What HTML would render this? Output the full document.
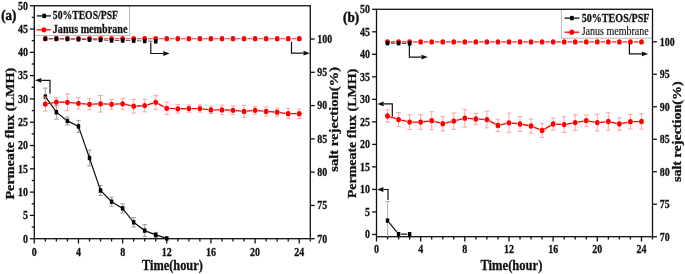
<!DOCTYPE html>
<html><head><meta charset="utf-8"><style>
html,body{margin:0;padding:0;background:#fff;}
body{width:685px;height:274px;overflow:hidden;}
svg{display:block;will-change:transform;}
text{font-family:"Liberation Serif", serif;fill:#111;}
text[font-weight="bold"]{stroke:#111;stroke-width:0.28px;}
text[font-weight="normal"]{stroke:#111;stroke-width:0.15px;}
</style></head><body>
<svg width="685" height="274" viewBox="0 0 685 274" font-family="Liberation Serif, serif">
<rect width="685" height="274" fill="#fff"/>
<rect x="34.30" y="5.75" width="95.30" height="29.85" fill="#fff" stroke="#b8b8b8" stroke-width="1"/>
<rect x="34.30" y="5.75" width="276.00" height="232.95" fill="none" stroke="#111" stroke-width="1.3"/>
<line x1="34.30" y1="238.70" x2="34.30" y2="243.50" stroke="#111" stroke-width="1.3" />
<line x1="45.34" y1="238.70" x2="45.34" y2="241.50" stroke="#111" stroke-width="1.3" />
<line x1="56.38" y1="238.70" x2="56.38" y2="241.50" stroke="#111" stroke-width="1.3" />
<line x1="67.42" y1="238.70" x2="67.42" y2="241.50" stroke="#111" stroke-width="1.3" />
<line x1="78.46" y1="238.70" x2="78.46" y2="243.50" stroke="#111" stroke-width="1.3" />
<line x1="89.50" y1="238.70" x2="89.50" y2="241.50" stroke="#111" stroke-width="1.3" />
<line x1="100.54" y1="238.70" x2="100.54" y2="241.50" stroke="#111" stroke-width="1.3" />
<line x1="111.58" y1="238.70" x2="111.58" y2="241.50" stroke="#111" stroke-width="1.3" />
<line x1="122.62" y1="238.70" x2="122.62" y2="243.50" stroke="#111" stroke-width="1.3" />
<line x1="133.66" y1="238.70" x2="133.66" y2="241.50" stroke="#111" stroke-width="1.3" />
<line x1="144.70" y1="238.70" x2="144.70" y2="241.50" stroke="#111" stroke-width="1.3" />
<line x1="155.74" y1="238.70" x2="155.74" y2="241.50" stroke="#111" stroke-width="1.3" />
<line x1="166.78" y1="238.70" x2="166.78" y2="243.50" stroke="#111" stroke-width="1.3" />
<line x1="177.82" y1="238.70" x2="177.82" y2="241.50" stroke="#111" stroke-width="1.3" />
<line x1="188.86" y1="238.70" x2="188.86" y2="241.50" stroke="#111" stroke-width="1.3" />
<line x1="199.90" y1="238.70" x2="199.90" y2="241.50" stroke="#111" stroke-width="1.3" />
<line x1="210.94" y1="238.70" x2="210.94" y2="243.50" stroke="#111" stroke-width="1.3" />
<line x1="221.98" y1="238.70" x2="221.98" y2="241.50" stroke="#111" stroke-width="1.3" />
<line x1="233.02" y1="238.70" x2="233.02" y2="241.50" stroke="#111" stroke-width="1.3" />
<line x1="244.06" y1="238.70" x2="244.06" y2="241.50" stroke="#111" stroke-width="1.3" />
<line x1="255.10" y1="238.70" x2="255.10" y2="243.50" stroke="#111" stroke-width="1.3" />
<line x1="266.14" y1="238.70" x2="266.14" y2="241.50" stroke="#111" stroke-width="1.3" />
<line x1="277.18" y1="238.70" x2="277.18" y2="241.50" stroke="#111" stroke-width="1.3" />
<line x1="288.22" y1="238.70" x2="288.22" y2="241.50" stroke="#111" stroke-width="1.3" />
<line x1="299.26" y1="238.70" x2="299.26" y2="243.50" stroke="#111" stroke-width="1.3" />
<line x1="310.30" y1="238.70" x2="310.30" y2="241.50" stroke="#111" stroke-width="1.3" />
<line x1="29.90" y1="238.70" x2="34.30" y2="238.70" stroke="#111" stroke-width="1.3" />
<line x1="29.90" y1="215.40" x2="34.30" y2="215.40" stroke="#111" stroke-width="1.3" />
<line x1="29.90" y1="192.11" x2="34.30" y2="192.11" stroke="#111" stroke-width="1.3" />
<line x1="29.90" y1="168.81" x2="34.30" y2="168.81" stroke="#111" stroke-width="1.3" />
<line x1="29.90" y1="145.52" x2="34.30" y2="145.52" stroke="#111" stroke-width="1.3" />
<line x1="29.90" y1="122.22" x2="34.30" y2="122.22" stroke="#111" stroke-width="1.3" />
<line x1="29.90" y1="98.93" x2="34.30" y2="98.93" stroke="#111" stroke-width="1.3" />
<line x1="29.90" y1="75.63" x2="34.30" y2="75.63" stroke="#111" stroke-width="1.3" />
<line x1="29.90" y1="52.34" x2="34.30" y2="52.34" stroke="#111" stroke-width="1.3" />
<line x1="29.90" y1="29.04" x2="34.30" y2="29.04" stroke="#111" stroke-width="1.3" />
<line x1="29.90" y1="5.75" x2="34.30" y2="5.75" stroke="#111" stroke-width="1.3" />
<line x1="31.70" y1="227.05" x2="34.30" y2="227.05" stroke="#111" stroke-width="1.3" />
<line x1="31.70" y1="203.76" x2="34.30" y2="203.76" stroke="#111" stroke-width="1.3" />
<line x1="31.70" y1="180.46" x2="34.30" y2="180.46" stroke="#111" stroke-width="1.3" />
<line x1="31.70" y1="157.17" x2="34.30" y2="157.17" stroke="#111" stroke-width="1.3" />
<line x1="31.70" y1="133.87" x2="34.30" y2="133.87" stroke="#111" stroke-width="1.3" />
<line x1="31.70" y1="110.58" x2="34.30" y2="110.58" stroke="#111" stroke-width="1.3" />
<line x1="31.70" y1="87.28" x2="34.30" y2="87.28" stroke="#111" stroke-width="1.3" />
<line x1="31.70" y1="63.99" x2="34.30" y2="63.99" stroke="#111" stroke-width="1.3" />
<line x1="31.70" y1="40.69" x2="34.30" y2="40.69" stroke="#111" stroke-width="1.3" />
<line x1="31.70" y1="17.40" x2="34.30" y2="17.40" stroke="#111" stroke-width="1.3" />
<line x1="310.30" y1="238.70" x2="314.70" y2="238.70" stroke="#111" stroke-width="1.3" />
<line x1="310.30" y1="205.42" x2="314.70" y2="205.42" stroke="#111" stroke-width="1.3" />
<line x1="310.30" y1="172.14" x2="314.70" y2="172.14" stroke="#111" stroke-width="1.3" />
<line x1="310.30" y1="138.86" x2="314.70" y2="138.86" stroke="#111" stroke-width="1.3" />
<line x1="310.30" y1="105.59" x2="314.70" y2="105.59" stroke="#111" stroke-width="1.3" />
<line x1="310.30" y1="72.31" x2="314.70" y2="72.31" stroke="#111" stroke-width="1.3" />
<line x1="310.30" y1="39.03" x2="314.70" y2="39.03" stroke="#111" stroke-width="1.3" />
<line x1="45.34" y1="88.10" x2="45.34" y2="105.10" stroke="#959595" stroke-width="0.9" />
<line x1="43.04" y1="88.10" x2="47.64" y2="88.10" stroke="#959595" stroke-width="0.9" />
<line x1="43.04" y1="105.10" x2="47.64" y2="105.10" stroke="#959595" stroke-width="0.9" />
<line x1="56.38" y1="105.20" x2="56.38" y2="119.20" stroke="#959595" stroke-width="0.9" />
<line x1="54.08" y1="105.20" x2="58.68" y2="105.20" stroke="#959595" stroke-width="0.9" />
<line x1="54.08" y1="119.20" x2="58.68" y2="119.20" stroke="#959595" stroke-width="0.9" />
<line x1="67.42" y1="116.90" x2="67.42" y2="124.90" stroke="#959595" stroke-width="0.9" />
<line x1="65.12" y1="116.90" x2="69.72" y2="116.90" stroke="#959595" stroke-width="0.9" />
<line x1="65.12" y1="124.90" x2="69.72" y2="124.90" stroke="#959595" stroke-width="0.9" />
<line x1="78.46" y1="120.40" x2="78.46" y2="132.40" stroke="#959595" stroke-width="0.9" />
<line x1="76.16" y1="120.40" x2="80.76" y2="120.40" stroke="#959595" stroke-width="0.9" />
<line x1="76.16" y1="132.40" x2="80.76" y2="132.40" stroke="#959595" stroke-width="0.9" />
<line x1="89.50" y1="150.10" x2="89.50" y2="165.90" stroke="#959595" stroke-width="0.9" />
<line x1="87.20" y1="150.10" x2="91.80" y2="150.10" stroke="#959595" stroke-width="0.9" />
<line x1="87.20" y1="165.90" x2="91.80" y2="165.90" stroke="#959595" stroke-width="0.9" />
<line x1="100.54" y1="185.50" x2="100.54" y2="195.50" stroke="#959595" stroke-width="0.9" />
<line x1="98.24" y1="185.50" x2="102.84" y2="185.50" stroke="#959595" stroke-width="0.9" />
<line x1="98.24" y1="195.50" x2="102.84" y2="195.50" stroke="#959595" stroke-width="0.9" />
<line x1="111.58" y1="197.20" x2="111.58" y2="206.20" stroke="#959595" stroke-width="0.9" />
<line x1="109.28" y1="197.20" x2="113.88" y2="197.20" stroke="#959595" stroke-width="0.9" />
<line x1="109.28" y1="206.20" x2="113.88" y2="206.20" stroke="#959595" stroke-width="0.9" />
<line x1="122.62" y1="203.80" x2="122.62" y2="213.00" stroke="#959595" stroke-width="0.9" />
<line x1="120.32" y1="203.80" x2="124.92" y2="203.80" stroke="#959595" stroke-width="0.9" />
<line x1="120.32" y1="213.00" x2="124.92" y2="213.00" stroke="#959595" stroke-width="0.9" />
<line x1="133.66" y1="217.60" x2="133.66" y2="227.00" stroke="#959595" stroke-width="0.9" />
<line x1="131.36" y1="217.60" x2="135.96" y2="217.60" stroke="#959595" stroke-width="0.9" />
<line x1="131.36" y1="227.00" x2="135.96" y2="227.00" stroke="#959595" stroke-width="0.9" />
<line x1="144.70" y1="224.60" x2="144.70" y2="236.60" stroke="#959595" stroke-width="0.9" />
<line x1="142.40" y1="224.60" x2="147.00" y2="224.60" stroke="#959595" stroke-width="0.9" />
<line x1="142.40" y1="236.60" x2="147.00" y2="236.60" stroke="#959595" stroke-width="0.9" />
<line x1="155.74" y1="232.40" x2="155.74" y2="237.40" stroke="#959595" stroke-width="0.9" />
<line x1="153.44" y1="232.40" x2="158.04" y2="232.40" stroke="#959595" stroke-width="0.9" />
<line x1="153.44" y1="237.40" x2="158.04" y2="237.40" stroke="#959595" stroke-width="0.9" />
<polyline points="45.34,96.60 56.38,112.20 67.42,120.90 78.46,126.40 89.50,158.00 100.54,190.50 111.58,201.70 122.62,208.40 133.66,222.30 144.70,230.60 155.74,234.90 166.78,238.40" fill="none" stroke="#111" stroke-width="1.2"/>
<rect x="43.59" y="94.40" width="3.5" height="4.4" fill="#000"/>
<rect x="54.63" y="110.00" width="3.5" height="4.4" fill="#000"/>
<rect x="65.67" y="118.70" width="3.5" height="4.4" fill="#000"/>
<rect x="76.71" y="124.20" width="3.5" height="4.4" fill="#000"/>
<rect x="87.75" y="155.80" width="3.5" height="4.4" fill="#000"/>
<rect x="98.79" y="188.30" width="3.5" height="4.4" fill="#000"/>
<rect x="109.83" y="199.50" width="3.5" height="4.4" fill="#000"/>
<rect x="120.87" y="206.20" width="3.5" height="4.4" fill="#000"/>
<rect x="131.91" y="220.10" width="3.5" height="4.4" fill="#000"/>
<rect x="142.95" y="228.40" width="3.5" height="4.4" fill="#000"/>
<rect x="153.99" y="232.70" width="3.5" height="4.4" fill="#000"/>
<rect x="165.03" y="236.20" width="3.5" height="4.4" fill="#000"/>
<line x1="45.34" y1="97.10" x2="45.34" y2="111.10" stroke="#ff9a9a" stroke-width="0.9" />
<line x1="43.04" y1="97.10" x2="47.64" y2="97.10" stroke="#ff9a9a" stroke-width="0.9" />
<line x1="43.04" y1="111.10" x2="47.64" y2="111.10" stroke="#ff9a9a" stroke-width="0.9" />
<line x1="56.38" y1="97.60" x2="56.38" y2="106.60" stroke="#ff9a9a" stroke-width="0.9" />
<line x1="54.08" y1="97.60" x2="58.68" y2="97.60" stroke="#ff9a9a" stroke-width="0.9" />
<line x1="54.08" y1="106.60" x2="58.68" y2="106.60" stroke="#ff9a9a" stroke-width="0.9" />
<line x1="67.42" y1="93.90" x2="67.42" y2="110.70" stroke="#ff9a9a" stroke-width="0.9" />
<line x1="65.12" y1="93.90" x2="69.72" y2="93.90" stroke="#ff9a9a" stroke-width="0.9" />
<line x1="65.12" y1="110.70" x2="69.72" y2="110.70" stroke="#ff9a9a" stroke-width="0.9" />
<line x1="78.46" y1="97.60" x2="78.46" y2="109.00" stroke="#ff9a9a" stroke-width="0.9" />
<line x1="76.16" y1="97.60" x2="80.76" y2="97.60" stroke="#ff9a9a" stroke-width="0.9" />
<line x1="76.16" y1="109.00" x2="80.76" y2="109.00" stroke="#ff9a9a" stroke-width="0.9" />
<line x1="89.50" y1="98.70" x2="89.50" y2="109.90" stroke="#ff9a9a" stroke-width="0.9" />
<line x1="87.20" y1="98.70" x2="91.80" y2="98.70" stroke="#ff9a9a" stroke-width="0.9" />
<line x1="87.20" y1="109.90" x2="91.80" y2="109.90" stroke="#ff9a9a" stroke-width="0.9" />
<line x1="100.54" y1="95.50" x2="100.54" y2="112.10" stroke="#ff9a9a" stroke-width="0.9" />
<line x1="98.24" y1="95.50" x2="102.84" y2="95.50" stroke="#ff9a9a" stroke-width="0.9" />
<line x1="98.24" y1="112.10" x2="102.84" y2="112.10" stroke="#ff9a9a" stroke-width="0.9" />
<line x1="111.58" y1="99.50" x2="111.58" y2="109.10" stroke="#ff9a9a" stroke-width="0.9" />
<line x1="109.28" y1="99.50" x2="113.88" y2="99.50" stroke="#ff9a9a" stroke-width="0.9" />
<line x1="109.28" y1="109.10" x2="113.88" y2="109.10" stroke="#ff9a9a" stroke-width="0.9" />
<line x1="122.62" y1="98.30" x2="122.62" y2="109.30" stroke="#ff9a9a" stroke-width="0.9" />
<line x1="120.32" y1="98.30" x2="124.92" y2="98.30" stroke="#ff9a9a" stroke-width="0.9" />
<line x1="120.32" y1="109.30" x2="124.92" y2="109.30" stroke="#ff9a9a" stroke-width="0.9" />
<line x1="133.66" y1="99.40" x2="133.66" y2="113.00" stroke="#ff9a9a" stroke-width="0.9" />
<line x1="131.36" y1="99.40" x2="135.96" y2="99.40" stroke="#ff9a9a" stroke-width="0.9" />
<line x1="131.36" y1="113.00" x2="135.96" y2="113.00" stroke="#ff9a9a" stroke-width="0.9" />
<line x1="144.70" y1="99.30" x2="144.70" y2="111.90" stroke="#ff9a9a" stroke-width="0.9" />
<line x1="142.40" y1="99.30" x2="147.00" y2="99.30" stroke="#ff9a9a" stroke-width="0.9" />
<line x1="142.40" y1="111.90" x2="147.00" y2="111.90" stroke="#ff9a9a" stroke-width="0.9" />
<line x1="155.74" y1="95.30" x2="155.74" y2="109.30" stroke="#ff9a9a" stroke-width="0.9" />
<line x1="153.44" y1="95.30" x2="158.04" y2="95.30" stroke="#ff9a9a" stroke-width="0.9" />
<line x1="153.44" y1="109.30" x2="158.04" y2="109.30" stroke="#ff9a9a" stroke-width="0.9" />
<line x1="166.78" y1="102.10" x2="166.78" y2="114.50" stroke="#ff9a9a" stroke-width="0.9" />
<line x1="164.48" y1="102.10" x2="169.08" y2="102.10" stroke="#ff9a9a" stroke-width="0.9" />
<line x1="164.48" y1="114.50" x2="169.08" y2="114.50" stroke="#ff9a9a" stroke-width="0.9" />
<line x1="177.82" y1="104.40" x2="177.82" y2="113.20" stroke="#ff9a9a" stroke-width="0.9" />
<line x1="175.52" y1="104.40" x2="180.12" y2="104.40" stroke="#ff9a9a" stroke-width="0.9" />
<line x1="175.52" y1="113.20" x2="180.12" y2="113.20" stroke="#ff9a9a" stroke-width="0.9" />
<line x1="188.86" y1="105.00" x2="188.86" y2="112.20" stroke="#ff9a9a" stroke-width="0.9" />
<line x1="186.56" y1="105.00" x2="191.16" y2="105.00" stroke="#ff9a9a" stroke-width="0.9" />
<line x1="186.56" y1="112.20" x2="191.16" y2="112.20" stroke="#ff9a9a" stroke-width="0.9" />
<line x1="199.90" y1="105.00" x2="199.90" y2="112.20" stroke="#ff9a9a" stroke-width="0.9" />
<line x1="197.60" y1="105.00" x2="202.20" y2="105.00" stroke="#ff9a9a" stroke-width="0.9" />
<line x1="197.60" y1="112.20" x2="202.20" y2="112.20" stroke="#ff9a9a" stroke-width="0.9" />
<line x1="210.94" y1="106.30" x2="210.94" y2="113.50" stroke="#ff9a9a" stroke-width="0.9" />
<line x1="208.64" y1="106.30" x2="213.24" y2="106.30" stroke="#ff9a9a" stroke-width="0.9" />
<line x1="208.64" y1="113.50" x2="213.24" y2="113.50" stroke="#ff9a9a" stroke-width="0.9" />
<line x1="221.98" y1="105.20" x2="221.98" y2="114.60" stroke="#ff9a9a" stroke-width="0.9" />
<line x1="219.68" y1="105.20" x2="224.28" y2="105.20" stroke="#ff9a9a" stroke-width="0.9" />
<line x1="219.68" y1="114.60" x2="224.28" y2="114.60" stroke="#ff9a9a" stroke-width="0.9" />
<line x1="233.02" y1="105.80" x2="233.02" y2="114.80" stroke="#ff9a9a" stroke-width="0.9" />
<line x1="230.72" y1="105.80" x2="235.32" y2="105.80" stroke="#ff9a9a" stroke-width="0.9" />
<line x1="230.72" y1="114.80" x2="235.32" y2="114.80" stroke="#ff9a9a" stroke-width="0.9" />
<line x1="244.06" y1="105.40" x2="244.06" y2="117.40" stroke="#ff9a9a" stroke-width="0.9" />
<line x1="241.76" y1="105.40" x2="246.36" y2="105.40" stroke="#ff9a9a" stroke-width="0.9" />
<line x1="241.76" y1="117.40" x2="246.36" y2="117.40" stroke="#ff9a9a" stroke-width="0.9" />
<line x1="255.10" y1="106.30" x2="255.10" y2="114.30" stroke="#ff9a9a" stroke-width="0.9" />
<line x1="252.80" y1="106.30" x2="257.40" y2="106.30" stroke="#ff9a9a" stroke-width="0.9" />
<line x1="252.80" y1="114.30" x2="257.40" y2="114.30" stroke="#ff9a9a" stroke-width="0.9" />
<line x1="266.14" y1="106.90" x2="266.14" y2="115.90" stroke="#ff9a9a" stroke-width="0.9" />
<line x1="263.84" y1="106.90" x2="268.44" y2="106.90" stroke="#ff9a9a" stroke-width="0.9" />
<line x1="263.84" y1="115.90" x2="268.44" y2="115.90" stroke="#ff9a9a" stroke-width="0.9" />
<line x1="277.18" y1="108.20" x2="277.18" y2="116.20" stroke="#ff9a9a" stroke-width="0.9" />
<line x1="274.88" y1="108.20" x2="279.48" y2="108.20" stroke="#ff9a9a" stroke-width="0.9" />
<line x1="274.88" y1="116.20" x2="279.48" y2="116.20" stroke="#ff9a9a" stroke-width="0.9" />
<line x1="288.22" y1="108.70" x2="288.22" y2="118.70" stroke="#ff9a9a" stroke-width="0.9" />
<line x1="285.92" y1="108.70" x2="290.52" y2="108.70" stroke="#ff9a9a" stroke-width="0.9" />
<line x1="285.92" y1="118.70" x2="290.52" y2="118.70" stroke="#ff9a9a" stroke-width="0.9" />
<line x1="299.26" y1="109.20" x2="299.26" y2="118.20" stroke="#ff9a9a" stroke-width="0.9" />
<line x1="296.96" y1="109.20" x2="301.56" y2="109.20" stroke="#ff9a9a" stroke-width="0.9" />
<line x1="296.96" y1="118.20" x2="301.56" y2="118.20" stroke="#ff9a9a" stroke-width="0.9" />
<path d="M48.10 103.60L53.62 102.60M59.18 102.15L64.62 102.25M70.21 102.55L75.67 103.05M81.25 103.55L86.71 104.05M92.30 104.17L97.74 103.93M103.34 103.93L108.78 104.17M114.38 104.17L119.82 103.93M125.36 104.39L130.92 105.61M136.46 106.05L141.90 105.75M147.38 104.80L153.06 103.10M158.20 103.64L164.32 106.96M169.58 108.43L175.02 108.67M180.62 108.75L186.06 108.65M191.66 108.60L197.10 108.60M202.68 108.93L208.16 109.57M213.74 109.90L219.18 109.90M224.78 110.00L230.22 110.20M235.81 110.58L241.27 111.12M246.85 111.12L252.31 110.58M257.89 110.58L263.35 111.12M268.93 111.60L274.39 112.00M279.95 112.58L285.45 113.32M291.02 113.70L296.46 113.70" fill="none" stroke="#ff0000" stroke-width="1.3"/>
<ellipse cx="45.34" cy="104.10" rx="2.4" ry="2.65" fill="#ff0000"/>
<ellipse cx="56.38" cy="102.10" rx="2.4" ry="2.65" fill="#ff0000"/>
<ellipse cx="67.42" cy="102.30" rx="2.4" ry="2.65" fill="#ff0000"/>
<ellipse cx="78.46" cy="103.30" rx="2.4" ry="2.65" fill="#ff0000"/>
<ellipse cx="89.50" cy="104.30" rx="2.4" ry="2.65" fill="#ff0000"/>
<ellipse cx="100.54" cy="103.80" rx="2.4" ry="2.65" fill="#ff0000"/>
<ellipse cx="111.58" cy="104.30" rx="2.4" ry="2.65" fill="#ff0000"/>
<ellipse cx="122.62" cy="103.80" rx="2.4" ry="2.65" fill="#ff0000"/>
<ellipse cx="133.66" cy="106.20" rx="2.4" ry="2.65" fill="#ff0000"/>
<ellipse cx="144.70" cy="105.60" rx="2.4" ry="2.65" fill="#ff0000"/>
<ellipse cx="155.74" cy="102.30" rx="2.4" ry="2.65" fill="#ff0000"/>
<ellipse cx="166.78" cy="108.30" rx="2.4" ry="2.65" fill="#ff0000"/>
<ellipse cx="177.82" cy="108.80" rx="2.4" ry="2.65" fill="#ff0000"/>
<ellipse cx="188.86" cy="108.60" rx="2.4" ry="2.65" fill="#ff0000"/>
<ellipse cx="199.90" cy="108.60" rx="2.4" ry="2.65" fill="#ff0000"/>
<ellipse cx="210.94" cy="109.90" rx="2.4" ry="2.65" fill="#ff0000"/>
<ellipse cx="221.98" cy="109.90" rx="2.4" ry="2.65" fill="#ff0000"/>
<ellipse cx="233.02" cy="110.30" rx="2.4" ry="2.65" fill="#ff0000"/>
<ellipse cx="244.06" cy="111.40" rx="2.4" ry="2.65" fill="#ff0000"/>
<ellipse cx="255.10" cy="110.30" rx="2.4" ry="2.65" fill="#ff0000"/>
<ellipse cx="266.14" cy="111.40" rx="2.4" ry="2.65" fill="#ff0000"/>
<ellipse cx="277.18" cy="112.20" rx="2.4" ry="2.65" fill="#ff0000"/>
<ellipse cx="288.22" cy="113.70" rx="2.4" ry="2.65" fill="#ff0000"/>
<ellipse cx="299.26" cy="113.70" rx="2.4" ry="2.65" fill="#ff0000"/>
<path d="M48.64 38.70L53.08 38.70M59.68 38.70L64.12 38.70M70.72 38.70L75.16 38.70M81.76 38.70L86.20 38.70M92.80 38.70L97.24 38.70M103.84 38.70L108.28 38.70M114.88 38.70L119.32 38.70M125.92 38.70L130.36 38.70M136.96 38.70L141.40 38.70M148.00 38.70L152.44 38.70M159.04 38.70L163.48 38.70M170.08 38.70L174.52 38.70M181.12 38.70L185.56 38.70M192.16 38.70L196.60 38.70M203.20 38.70L207.64 38.70M214.24 38.70L218.68 38.70M225.28 38.70L229.72 38.70M236.32 38.70L240.76 38.70M247.36 38.70L251.80 38.70M258.40 38.70L262.84 38.70M269.44 38.70L273.88 38.70M280.48 38.70L284.92 38.70M291.52 38.70L295.96 38.70" fill="none" stroke="#ff2020" stroke-width="1.1"/>
<ellipse cx="45.34" cy="38.70" rx="2.4" ry="2.65" fill="#ff0000"/>
<ellipse cx="56.38" cy="38.70" rx="2.4" ry="2.65" fill="#ff0000"/>
<ellipse cx="67.42" cy="38.70" rx="2.4" ry="2.65" fill="#ff0000"/>
<ellipse cx="78.46" cy="38.70" rx="2.4" ry="2.65" fill="#ff0000"/>
<ellipse cx="89.50" cy="38.70" rx="2.4" ry="2.65" fill="#ff0000"/>
<ellipse cx="100.54" cy="38.70" rx="2.4" ry="2.65" fill="#ff0000"/>
<ellipse cx="111.58" cy="38.70" rx="2.4" ry="2.65" fill="#ff0000"/>
<ellipse cx="122.62" cy="38.70" rx="2.4" ry="2.65" fill="#ff0000"/>
<ellipse cx="133.66" cy="38.70" rx="2.4" ry="2.65" fill="#ff0000"/>
<ellipse cx="144.70" cy="38.70" rx="2.4" ry="2.65" fill="#ff0000"/>
<ellipse cx="155.74" cy="38.70" rx="2.4" ry="2.65" fill="#ff0000"/>
<ellipse cx="166.78" cy="38.70" rx="2.4" ry="2.65" fill="#ff0000"/>
<ellipse cx="177.82" cy="38.70" rx="2.4" ry="2.65" fill="#ff0000"/>
<ellipse cx="188.86" cy="38.70" rx="2.4" ry="2.65" fill="#ff0000"/>
<ellipse cx="199.90" cy="38.70" rx="2.4" ry="2.65" fill="#ff0000"/>
<ellipse cx="210.94" cy="38.70" rx="2.4" ry="2.65" fill="#ff0000"/>
<ellipse cx="221.98" cy="38.70" rx="2.4" ry="2.65" fill="#ff0000"/>
<ellipse cx="233.02" cy="38.70" rx="2.4" ry="2.65" fill="#ff0000"/>
<ellipse cx="244.06" cy="38.70" rx="2.4" ry="2.65" fill="#ff0000"/>
<ellipse cx="255.10" cy="38.70" rx="2.4" ry="2.65" fill="#ff0000"/>
<ellipse cx="266.14" cy="38.70" rx="2.4" ry="2.65" fill="#ff0000"/>
<ellipse cx="277.18" cy="38.70" rx="2.4" ry="2.65" fill="#ff0000"/>
<ellipse cx="288.22" cy="38.70" rx="2.4" ry="2.65" fill="#ff0000"/>
<ellipse cx="299.26" cy="38.70" rx="2.4" ry="2.65" fill="#ff0000"/>
<path d="M48.54 38.80L53.18 38.80M59.58 38.86L64.22 38.94M70.62 39.09L75.26 39.21M81.66 39.42L86.30 39.58M92.70 39.76L97.34 39.84M103.74 40.07L108.38 40.33M114.78 40.50L119.42 40.50M125.82 40.56L130.46 40.64M136.86 40.82L141.50 40.98M147.90 41.16L152.54 41.24" fill="none" stroke="#555" stroke-width="1.0"/>
<rect x="43.59" y="36.60" width="3.5" height="4.4" fill="#000"/>
<rect x="54.63" y="36.60" width="3.5" height="4.4" fill="#000"/>
<rect x="65.67" y="36.80" width="3.5" height="4.4" fill="#000"/>
<rect x="76.71" y="37.10" width="3.5" height="4.4" fill="#000"/>
<rect x="87.75" y="37.50" width="3.5" height="4.4" fill="#000"/>
<rect x="98.79" y="37.70" width="3.5" height="4.4" fill="#000"/>
<rect x="109.83" y="38.30" width="3.5" height="4.4" fill="#000"/>
<rect x="120.87" y="38.30" width="3.5" height="4.4" fill="#000"/>
<rect x="131.91" y="38.50" width="3.5" height="4.4" fill="#000"/>
<rect x="142.95" y="38.90" width="3.5" height="4.4" fill="#000"/>
<rect x="153.99" y="39.10" width="3.5" height="4.4" fill="#000"/>
<path d="M50.00 93.80 L50.00 80.30 L41.30 80.30" fill="none" stroke="#111" stroke-width="1.2"/>
<path d="M35.00 80.30 L41.30 77.90 L41.30 82.70 Z" fill="#111"/>
<path d="M150.80 42.40 L150.80 53.50 L163.30 53.50" fill="none" stroke="#111" stroke-width="1.2"/>
<path d="M169.60 53.50 L163.30 51.10 L163.30 55.90 Z" fill="#111"/>
<path d="M291.50 41.80 L291.50 53.20 L303.50 53.20" fill="none" stroke="#111" stroke-width="1.2"/>
<path d="M309.80 53.20 L303.50 50.80 L303.50 55.60 Z" fill="#111"/>
<line x1="36.90" y1="15.90" x2="50.90" y2="15.90" stroke="#222" stroke-width="1.4" />
<rect x="42.45" y="13.70" width="3.5" height="4.4" fill="#000"/>
<line x1="36.60" y1="29.80" x2="50.80" y2="29.80" stroke="#ff0000" stroke-width="1.3" />
<ellipse cx="43.9" cy="29.8" rx="2.4" ry="2.65" fill="#ff0000"/>
<text x="52.80" y="18.90" font-size="12.6" text-anchor="start" font-weight="bold" textLength="65.2" lengthAdjust="spacingAndGlyphs">50%TEOS/PSF</text>
<text x="52.80" y="32.60" font-size="11.8" text-anchor="start" font-weight="bold" textLength="74.6" lengthAdjust="spacingAndGlyphs">Janus membrane</text>
<text transform="translate(28.00,242.50) scale(0.845,1)" font-size="11.8" text-anchor="end" font-weight="bold" >0</text>
<text transform="translate(28.00,219.20) scale(0.845,1)" font-size="11.8" text-anchor="end" font-weight="bold" >5</text>
<text transform="translate(28.00,195.91) scale(0.845,1)" font-size="11.8" text-anchor="end" font-weight="bold" >10</text>
<text transform="translate(28.00,172.62) scale(0.845,1)" font-size="11.8" text-anchor="end" font-weight="bold" >15</text>
<text transform="translate(28.00,149.32) scale(0.845,1)" font-size="11.8" text-anchor="end" font-weight="bold" >20</text>
<text transform="translate(28.00,126.02) scale(0.845,1)" font-size="11.8" text-anchor="end" font-weight="bold" >25</text>
<text transform="translate(28.00,102.73) scale(0.845,1)" font-size="11.8" text-anchor="end" font-weight="bold" >30</text>
<text transform="translate(28.00,79.43) scale(0.845,1)" font-size="11.8" text-anchor="end" font-weight="bold" >35</text>
<text transform="translate(28.00,56.14) scale(0.845,1)" font-size="11.8" text-anchor="end" font-weight="bold" >40</text>
<text transform="translate(28.00,32.84) scale(0.845,1)" font-size="11.8" text-anchor="end" font-weight="bold" >45</text>
<text transform="translate(28.00,9.55) scale(0.845,1)" font-size="11.8" text-anchor="end" font-weight="bold" >50</text>
<text transform="translate(317.30,242.50) scale(0.845,1)" font-size="11.8" text-anchor="start" font-weight="bold" >70</text>
<text transform="translate(317.30,209.22) scale(0.845,1)" font-size="11.8" text-anchor="start" font-weight="bold" >75</text>
<text transform="translate(317.30,175.94) scale(0.845,1)" font-size="11.8" text-anchor="start" font-weight="bold" >80</text>
<text transform="translate(317.30,142.66) scale(0.845,1)" font-size="11.8" text-anchor="start" font-weight="bold" >85</text>
<text transform="translate(317.30,109.39) scale(0.845,1)" font-size="11.8" text-anchor="start" font-weight="bold" >90</text>
<text transform="translate(317.30,76.11) scale(0.845,1)" font-size="11.8" text-anchor="start" font-weight="bold" >95</text>
<text transform="translate(317.30,42.83) scale(0.845,1)" font-size="11.8" text-anchor="start" font-weight="bold" >100</text>
<text transform="translate(34.30,255.60) scale(0.845,1)" font-size="11.8" text-anchor="middle" font-weight="bold" >0</text>
<text transform="translate(78.46,255.60) scale(0.845,1)" font-size="11.8" text-anchor="middle" font-weight="bold" >4</text>
<text transform="translate(122.62,255.60) scale(0.845,1)" font-size="11.8" text-anchor="middle" font-weight="bold" >8</text>
<text transform="translate(166.78,255.60) scale(0.845,1)" font-size="11.8" text-anchor="middle" font-weight="bold" >12</text>
<text transform="translate(210.94,255.60) scale(0.845,1)" font-size="11.8" text-anchor="middle" font-weight="bold" >16</text>
<text transform="translate(255.10,255.60) scale(0.845,1)" font-size="11.8" text-anchor="middle" font-weight="bold" >20</text>
<text transform="translate(299.26,255.60) scale(0.845,1)" font-size="11.8" text-anchor="middle" font-weight="bold" >24</text>
<text x="142.00" y="269.50" font-size="14.6" text-anchor="start" font-weight="bold" textLength="60.8" lengthAdjust="spacingAndGlyphs">Time(hour)</text>
<text transform="translate(13.9,199.6) rotate(-90)" font-size="12.9" font-weight="bold" textLength="131.8" lengthAdjust="spacingAndGlyphs">Permeate flux (LMH)</text>
<text transform="translate(337.8,171.8) rotate(-90)" font-size="12.6" font-weight="bold" textLength="104.9" lengthAdjust="spacingAndGlyphs">salt rejection(%)</text>
<text transform="translate(1.30,19.80) scale(0.92,1)" font-size="14" text-anchor="start" font-weight="bold" style="stroke-width:0.5px">(a)</text>
<rect x="561.4" y="9.30" width="91.10" height="28.90" fill="#fff" stroke="#b8b8b8" stroke-width="1"/>
<rect x="376.50" y="9.30" width="276.00" height="227.40" fill="none" stroke="#111" stroke-width="1.3"/>
<line x1="376.50" y1="236.70" x2="376.50" y2="241.50" stroke="#111" stroke-width="1.3" />
<line x1="387.54" y1="236.70" x2="387.54" y2="239.50" stroke="#111" stroke-width="1.3" />
<line x1="398.58" y1="236.70" x2="398.58" y2="239.50" stroke="#111" stroke-width="1.3" />
<line x1="409.62" y1="236.70" x2="409.62" y2="239.50" stroke="#111" stroke-width="1.3" />
<line x1="420.66" y1="236.70" x2="420.66" y2="241.50" stroke="#111" stroke-width="1.3" />
<line x1="431.70" y1="236.70" x2="431.70" y2="239.50" stroke="#111" stroke-width="1.3" />
<line x1="442.74" y1="236.70" x2="442.74" y2="239.50" stroke="#111" stroke-width="1.3" />
<line x1="453.78" y1="236.70" x2="453.78" y2="239.50" stroke="#111" stroke-width="1.3" />
<line x1="464.82" y1="236.70" x2="464.82" y2="241.50" stroke="#111" stroke-width="1.3" />
<line x1="475.86" y1="236.70" x2="475.86" y2="239.50" stroke="#111" stroke-width="1.3" />
<line x1="486.90" y1="236.70" x2="486.90" y2="239.50" stroke="#111" stroke-width="1.3" />
<line x1="497.94" y1="236.70" x2="497.94" y2="239.50" stroke="#111" stroke-width="1.3" />
<line x1="508.98" y1="236.70" x2="508.98" y2="241.50" stroke="#111" stroke-width="1.3" />
<line x1="520.02" y1="236.70" x2="520.02" y2="239.50" stroke="#111" stroke-width="1.3" />
<line x1="531.06" y1="236.70" x2="531.06" y2="239.50" stroke="#111" stroke-width="1.3" />
<line x1="542.10" y1="236.70" x2="542.10" y2="239.50" stroke="#111" stroke-width="1.3" />
<line x1="553.14" y1="236.70" x2="553.14" y2="241.50" stroke="#111" stroke-width="1.3" />
<line x1="564.18" y1="236.70" x2="564.18" y2="239.50" stroke="#111" stroke-width="1.3" />
<line x1="575.22" y1="236.70" x2="575.22" y2="239.50" stroke="#111" stroke-width="1.3" />
<line x1="586.26" y1="236.70" x2="586.26" y2="239.50" stroke="#111" stroke-width="1.3" />
<line x1="597.30" y1="236.70" x2="597.30" y2="241.50" stroke="#111" stroke-width="1.3" />
<line x1="608.34" y1="236.70" x2="608.34" y2="239.50" stroke="#111" stroke-width="1.3" />
<line x1="619.38" y1="236.70" x2="619.38" y2="239.50" stroke="#111" stroke-width="1.3" />
<line x1="630.42" y1="236.70" x2="630.42" y2="239.50" stroke="#111" stroke-width="1.3" />
<line x1="641.46" y1="236.70" x2="641.46" y2="241.50" stroke="#111" stroke-width="1.3" />
<line x1="652.50" y1="236.70" x2="652.50" y2="239.50" stroke="#111" stroke-width="1.3" />
<line x1="372.10" y1="234.45" x2="376.50" y2="234.45" stroke="#111" stroke-width="1.3" />
<line x1="372.10" y1="211.93" x2="376.50" y2="211.93" stroke="#111" stroke-width="1.3" />
<line x1="372.10" y1="189.42" x2="376.50" y2="189.42" stroke="#111" stroke-width="1.3" />
<line x1="372.10" y1="166.90" x2="376.50" y2="166.90" stroke="#111" stroke-width="1.3" />
<line x1="372.10" y1="144.39" x2="376.50" y2="144.39" stroke="#111" stroke-width="1.3" />
<line x1="372.10" y1="121.87" x2="376.50" y2="121.87" stroke="#111" stroke-width="1.3" />
<line x1="372.10" y1="99.36" x2="376.50" y2="99.36" stroke="#111" stroke-width="1.3" />
<line x1="372.10" y1="76.84" x2="376.50" y2="76.84" stroke="#111" stroke-width="1.3" />
<line x1="372.10" y1="54.33" x2="376.50" y2="54.33" stroke="#111" stroke-width="1.3" />
<line x1="372.10" y1="31.81" x2="376.50" y2="31.81" stroke="#111" stroke-width="1.3" />
<line x1="372.10" y1="9.30" x2="376.50" y2="9.30" stroke="#111" stroke-width="1.3" />
<line x1="652.50" y1="236.70" x2="656.90" y2="236.70" stroke="#111" stroke-width="1.3" />
<line x1="652.50" y1="204.21" x2="656.90" y2="204.21" stroke="#111" stroke-width="1.3" />
<line x1="652.50" y1="171.73" x2="656.90" y2="171.73" stroke="#111" stroke-width="1.3" />
<line x1="652.50" y1="139.24" x2="656.90" y2="139.24" stroke="#111" stroke-width="1.3" />
<line x1="652.50" y1="106.76" x2="656.90" y2="106.76" stroke="#111" stroke-width="1.3" />
<line x1="652.50" y1="74.27" x2="656.90" y2="74.27" stroke="#111" stroke-width="1.3" />
<line x1="652.50" y1="41.79" x2="656.90" y2="41.79" stroke="#111" stroke-width="1.3" />
<line x1="387.54" y1="201.50" x2="387.54" y2="236.70" stroke="#a8a8a8" stroke-width="0.9" />
<line x1="385.44" y1="201.50" x2="389.64" y2="201.50" stroke="#a8a8a8" stroke-width="0.9" />
<path d="M389.18 222.62L396.94 232.18M401.18 234.20L407.02 234.20" fill="none" stroke="#111" stroke-width="1.2"/>
<rect x="385.79" y="218.40" width="3.5" height="4.4" fill="#000"/>
<rect x="396.83" y="232.00" width="3.5" height="4.4" fill="#000"/>
<rect x="407.87" y="232.00" width="3.5" height="4.4" fill="#000"/>
<line x1="387.54" y1="109.90" x2="387.54" y2="122.10" stroke="#ff9a9a" stroke-width="0.9" />
<line x1="385.24" y1="109.90" x2="389.84" y2="109.90" stroke="#ff9a9a" stroke-width="0.9" />
<line x1="385.24" y1="122.10" x2="389.84" y2="122.10" stroke="#ff9a9a" stroke-width="0.9" />
<line x1="398.58" y1="112.50" x2="398.58" y2="126.70" stroke="#ff9a9a" stroke-width="0.9" />
<line x1="396.28" y1="112.50" x2="400.88" y2="112.50" stroke="#ff9a9a" stroke-width="0.9" />
<line x1="396.28" y1="126.70" x2="400.88" y2="126.70" stroke="#ff9a9a" stroke-width="0.9" />
<line x1="409.62" y1="114.80" x2="409.62" y2="129.40" stroke="#ff9a9a" stroke-width="0.9" />
<line x1="407.32" y1="114.80" x2="411.92" y2="114.80" stroke="#ff9a9a" stroke-width="0.9" />
<line x1="407.32" y1="129.40" x2="411.92" y2="129.40" stroke="#ff9a9a" stroke-width="0.9" />
<line x1="420.66" y1="114.80" x2="420.66" y2="129.40" stroke="#ff9a9a" stroke-width="0.9" />
<line x1="418.36" y1="114.80" x2="422.96" y2="114.80" stroke="#ff9a9a" stroke-width="0.9" />
<line x1="418.36" y1="129.40" x2="422.96" y2="129.40" stroke="#ff9a9a" stroke-width="0.9" />
<line x1="431.70" y1="111.70" x2="431.70" y2="129.70" stroke="#ff9a9a" stroke-width="0.9" />
<line x1="429.40" y1="111.70" x2="434.00" y2="111.70" stroke="#ff9a9a" stroke-width="0.9" />
<line x1="429.40" y1="129.70" x2="434.00" y2="129.70" stroke="#ff9a9a" stroke-width="0.9" />
<line x1="442.74" y1="116.60" x2="442.74" y2="130.80" stroke="#ff9a9a" stroke-width="0.9" />
<line x1="440.44" y1="116.60" x2="445.04" y2="116.60" stroke="#ff9a9a" stroke-width="0.9" />
<line x1="440.44" y1="130.80" x2="445.04" y2="130.80" stroke="#ff9a9a" stroke-width="0.9" />
<line x1="453.78" y1="112.90" x2="453.78" y2="129.30" stroke="#ff9a9a" stroke-width="0.9" />
<line x1="451.48" y1="112.90" x2="456.08" y2="112.90" stroke="#ff9a9a" stroke-width="0.9" />
<line x1="451.48" y1="129.30" x2="456.08" y2="129.30" stroke="#ff9a9a" stroke-width="0.9" />
<line x1="464.82" y1="109.30" x2="464.82" y2="127.10" stroke="#ff9a9a" stroke-width="0.9" />
<line x1="462.52" y1="109.30" x2="467.12" y2="109.30" stroke="#ff9a9a" stroke-width="0.9" />
<line x1="462.52" y1="127.10" x2="467.12" y2="127.10" stroke="#ff9a9a" stroke-width="0.9" />
<line x1="475.86" y1="113.30" x2="475.86" y2="124.70" stroke="#ff9a9a" stroke-width="0.9" />
<line x1="473.56" y1="113.30" x2="478.16" y2="113.30" stroke="#ff9a9a" stroke-width="0.9" />
<line x1="473.56" y1="124.70" x2="478.16" y2="124.70" stroke="#ff9a9a" stroke-width="0.9" />
<line x1="486.90" y1="111.30" x2="486.90" y2="127.90" stroke="#ff9a9a" stroke-width="0.9" />
<line x1="484.60" y1="111.30" x2="489.20" y2="111.30" stroke="#ff9a9a" stroke-width="0.9" />
<line x1="484.60" y1="127.90" x2="489.20" y2="127.90" stroke="#ff9a9a" stroke-width="0.9" />
<line x1="497.94" y1="119.30" x2="497.94" y2="131.50" stroke="#ff9a9a" stroke-width="0.9" />
<line x1="495.64" y1="119.30" x2="500.24" y2="119.30" stroke="#ff9a9a" stroke-width="0.9" />
<line x1="495.64" y1="131.50" x2="500.24" y2="131.50" stroke="#ff9a9a" stroke-width="0.9" />
<line x1="508.98" y1="113.20" x2="508.98" y2="132.40" stroke="#ff9a9a" stroke-width="0.9" />
<line x1="506.68" y1="113.20" x2="511.28" y2="113.20" stroke="#ff9a9a" stroke-width="0.9" />
<line x1="506.68" y1="132.40" x2="511.28" y2="132.40" stroke="#ff9a9a" stroke-width="0.9" />
<line x1="520.02" y1="116.60" x2="520.02" y2="131.40" stroke="#ff9a9a" stroke-width="0.9" />
<line x1="517.72" y1="116.60" x2="522.32" y2="116.60" stroke="#ff9a9a" stroke-width="0.9" />
<line x1="517.72" y1="131.40" x2="522.32" y2="131.40" stroke="#ff9a9a" stroke-width="0.9" />
<line x1="531.06" y1="119.00" x2="531.06" y2="133.00" stroke="#ff9a9a" stroke-width="0.9" />
<line x1="528.76" y1="119.00" x2="533.36" y2="119.00" stroke="#ff9a9a" stroke-width="0.9" />
<line x1="528.76" y1="133.00" x2="533.36" y2="133.00" stroke="#ff9a9a" stroke-width="0.9" />
<line x1="542.10" y1="123.70" x2="542.10" y2="137.30" stroke="#ff9a9a" stroke-width="0.9" />
<line x1="539.80" y1="123.70" x2="544.40" y2="123.70" stroke="#ff9a9a" stroke-width="0.9" />
<line x1="539.80" y1="137.30" x2="544.40" y2="137.30" stroke="#ff9a9a" stroke-width="0.9" />
<line x1="553.14" y1="118.00" x2="553.14" y2="130.00" stroke="#ff9a9a" stroke-width="0.9" />
<line x1="550.84" y1="118.00" x2="555.44" y2="118.00" stroke="#ff9a9a" stroke-width="0.9" />
<line x1="550.84" y1="130.00" x2="555.44" y2="130.00" stroke="#ff9a9a" stroke-width="0.9" />
<line x1="564.18" y1="116.70" x2="564.18" y2="132.50" stroke="#ff9a9a" stroke-width="0.9" />
<line x1="561.88" y1="116.70" x2="566.48" y2="116.70" stroke="#ff9a9a" stroke-width="0.9" />
<line x1="561.88" y1="132.50" x2="566.48" y2="132.50" stroke="#ff9a9a" stroke-width="0.9" />
<line x1="575.22" y1="114.70" x2="575.22" y2="130.50" stroke="#ff9a9a" stroke-width="0.9" />
<line x1="572.92" y1="114.70" x2="577.52" y2="114.70" stroke="#ff9a9a" stroke-width="0.9" />
<line x1="572.92" y1="130.50" x2="577.52" y2="130.50" stroke="#ff9a9a" stroke-width="0.9" />
<line x1="586.26" y1="115.00" x2="586.26" y2="126.20" stroke="#ff9a9a" stroke-width="0.9" />
<line x1="583.96" y1="115.00" x2="588.56" y2="115.00" stroke="#ff9a9a" stroke-width="0.9" />
<line x1="583.96" y1="126.20" x2="588.56" y2="126.20" stroke="#ff9a9a" stroke-width="0.9" />
<line x1="597.30" y1="114.30" x2="597.30" y2="130.90" stroke="#ff9a9a" stroke-width="0.9" />
<line x1="595.00" y1="114.30" x2="599.60" y2="114.30" stroke="#ff9a9a" stroke-width="0.9" />
<line x1="595.00" y1="130.90" x2="599.60" y2="130.90" stroke="#ff9a9a" stroke-width="0.9" />
<line x1="608.34" y1="112.80" x2="608.34" y2="130.20" stroke="#ff9a9a" stroke-width="0.9" />
<line x1="606.04" y1="112.80" x2="610.64" y2="112.80" stroke="#ff9a9a" stroke-width="0.9" />
<line x1="606.04" y1="130.20" x2="610.64" y2="130.20" stroke="#ff9a9a" stroke-width="0.9" />
<line x1="619.38" y1="117.80" x2="619.38" y2="130.20" stroke="#ff9a9a" stroke-width="0.9" />
<line x1="617.08" y1="117.80" x2="621.68" y2="117.80" stroke="#ff9a9a" stroke-width="0.9" />
<line x1="617.08" y1="130.20" x2="621.68" y2="130.20" stroke="#ff9a9a" stroke-width="0.9" />
<line x1="630.42" y1="114.30" x2="630.42" y2="129.10" stroke="#ff9a9a" stroke-width="0.9" />
<line x1="628.12" y1="114.30" x2="632.72" y2="114.30" stroke="#ff9a9a" stroke-width="0.9" />
<line x1="628.12" y1="129.10" x2="632.72" y2="129.10" stroke="#ff9a9a" stroke-width="0.9" />
<line x1="641.46" y1="113.80" x2="641.46" y2="129.20" stroke="#ff9a9a" stroke-width="0.9" />
<line x1="639.16" y1="113.80" x2="643.76" y2="113.80" stroke="#ff9a9a" stroke-width="0.9" />
<line x1="639.16" y1="129.20" x2="643.76" y2="129.20" stroke="#ff9a9a" stroke-width="0.9" />
<path d="M390.20 116.87L395.92 118.73M401.31 120.22L406.89 121.48M412.42 122.10L417.86 122.10M423.44 121.75L428.92 121.05M434.40 121.43L440.04 122.97M445.47 123.06L451.05 121.74M456.49 120.39L462.11 118.91M467.61 118.40L473.07 118.80M478.66 119.15L484.10 119.45M489.38 120.90L495.46 124.10M500.67 124.76L506.25 123.44M511.76 123.10L517.24 123.70M522.78 124.50L528.30 125.50M533.65 127.06L539.51 129.44M544.51 129.08L550.73 125.42M555.94 124.15L561.38 124.45M566.94 124.10L572.46 123.10M577.98 122.10L583.50 121.10M589.02 121.10L594.54 122.10M600.09 122.32L605.55 121.78M611.07 122.12L616.65 123.38M622.12 123.43L627.68 122.27M633.22 121.65L638.66 121.55" fill="none" stroke="#ff0000" stroke-width="1.3"/>
<ellipse cx="387.54" cy="116.00" rx="2.4" ry="2.65" fill="#ff0000"/>
<ellipse cx="398.58" cy="119.60" rx="2.4" ry="2.65" fill="#ff0000"/>
<ellipse cx="409.62" cy="122.10" rx="2.4" ry="2.65" fill="#ff0000"/>
<ellipse cx="420.66" cy="122.10" rx="2.4" ry="2.65" fill="#ff0000"/>
<ellipse cx="431.70" cy="120.70" rx="2.4" ry="2.65" fill="#ff0000"/>
<ellipse cx="442.74" cy="123.70" rx="2.4" ry="2.65" fill="#ff0000"/>
<ellipse cx="453.78" cy="121.10" rx="2.4" ry="2.65" fill="#ff0000"/>
<ellipse cx="464.82" cy="118.20" rx="2.4" ry="2.65" fill="#ff0000"/>
<ellipse cx="475.86" cy="119.00" rx="2.4" ry="2.65" fill="#ff0000"/>
<ellipse cx="486.90" cy="119.60" rx="2.4" ry="2.65" fill="#ff0000"/>
<ellipse cx="497.94" cy="125.40" rx="2.4" ry="2.65" fill="#ff0000"/>
<ellipse cx="508.98" cy="122.80" rx="2.4" ry="2.65" fill="#ff0000"/>
<ellipse cx="520.02" cy="124.00" rx="2.4" ry="2.65" fill="#ff0000"/>
<ellipse cx="531.06" cy="126.00" rx="2.4" ry="2.65" fill="#ff0000"/>
<ellipse cx="542.10" cy="130.50" rx="2.4" ry="2.65" fill="#ff0000"/>
<ellipse cx="553.14" cy="124.00" rx="2.4" ry="2.65" fill="#ff0000"/>
<ellipse cx="564.18" cy="124.60" rx="2.4" ry="2.65" fill="#ff0000"/>
<ellipse cx="575.22" cy="122.60" rx="2.4" ry="2.65" fill="#ff0000"/>
<ellipse cx="586.26" cy="120.60" rx="2.4" ry="2.65" fill="#ff0000"/>
<ellipse cx="597.30" cy="122.60" rx="2.4" ry="2.65" fill="#ff0000"/>
<ellipse cx="608.34" cy="121.50" rx="2.4" ry="2.65" fill="#ff0000"/>
<ellipse cx="619.38" cy="124.00" rx="2.4" ry="2.65" fill="#ff0000"/>
<ellipse cx="630.42" cy="121.70" rx="2.4" ry="2.65" fill="#ff0000"/>
<ellipse cx="641.46" cy="121.50" rx="2.4" ry="2.65" fill="#ff0000"/>
<path d="M390.84 41.90L395.28 41.90M401.88 41.90L406.32 41.90M412.92 41.90L417.36 41.90M423.96 41.90L428.40 41.90M435.00 41.90L439.44 41.90M446.04 41.90L450.48 41.90M457.08 41.90L461.52 41.90M468.12 41.90L472.56 41.90M479.16 41.90L483.60 41.90M490.20 41.90L494.64 41.90M501.24 41.90L505.68 41.90M512.28 41.90L516.72 41.90M523.32 41.90L527.76 41.90M534.36 41.90L538.80 41.90M545.40 41.90L549.84 41.90M556.44 41.90L560.88 41.90M567.48 41.90L571.92 41.90M578.52 41.90L582.96 41.90M589.56 41.90L594.00 41.90M600.60 41.90L605.04 41.90M611.64 41.90L616.08 41.90M622.68 41.90L627.12 41.90M633.72 41.90L638.16 41.90" fill="none" stroke="#ff2020" stroke-width="1.1"/>
<ellipse cx="387.54" cy="41.90" rx="2.4" ry="2.65" fill="#ff0000"/>
<ellipse cx="398.58" cy="41.90" rx="2.4" ry="2.65" fill="#ff0000"/>
<ellipse cx="409.62" cy="41.90" rx="2.4" ry="2.65" fill="#ff0000"/>
<ellipse cx="420.66" cy="41.90" rx="2.4" ry="2.65" fill="#ff0000"/>
<ellipse cx="431.70" cy="41.90" rx="2.4" ry="2.65" fill="#ff0000"/>
<ellipse cx="442.74" cy="41.90" rx="2.4" ry="2.65" fill="#ff0000"/>
<ellipse cx="453.78" cy="41.90" rx="2.4" ry="2.65" fill="#ff0000"/>
<ellipse cx="464.82" cy="41.90" rx="2.4" ry="2.65" fill="#ff0000"/>
<ellipse cx="475.86" cy="41.90" rx="2.4" ry="2.65" fill="#ff0000"/>
<ellipse cx="486.90" cy="41.90" rx="2.4" ry="2.65" fill="#ff0000"/>
<ellipse cx="497.94" cy="41.90" rx="2.4" ry="2.65" fill="#ff0000"/>
<ellipse cx="508.98" cy="41.90" rx="2.4" ry="2.65" fill="#ff0000"/>
<ellipse cx="520.02" cy="41.90" rx="2.4" ry="2.65" fill="#ff0000"/>
<ellipse cx="531.06" cy="41.90" rx="2.4" ry="2.65" fill="#ff0000"/>
<ellipse cx="542.10" cy="41.90" rx="2.4" ry="2.65" fill="#ff0000"/>
<ellipse cx="553.14" cy="41.90" rx="2.4" ry="2.65" fill="#ff0000"/>
<ellipse cx="564.18" cy="41.90" rx="2.4" ry="2.65" fill="#ff0000"/>
<ellipse cx="575.22" cy="41.90" rx="2.4" ry="2.65" fill="#ff0000"/>
<ellipse cx="586.26" cy="41.90" rx="2.4" ry="2.65" fill="#ff0000"/>
<ellipse cx="597.30" cy="41.90" rx="2.4" ry="2.65" fill="#ff0000"/>
<ellipse cx="608.34" cy="41.90" rx="2.4" ry="2.65" fill="#ff0000"/>
<ellipse cx="619.38" cy="41.90" rx="2.4" ry="2.65" fill="#ff0000"/>
<ellipse cx="630.42" cy="41.90" rx="2.4" ry="2.65" fill="#ff0000"/>
<ellipse cx="641.46" cy="41.90" rx="2.4" ry="2.65" fill="#ff0000"/>
<path d="M390.74 43.20L395.38 43.20M401.78 43.29L406.42 43.41" fill="none" stroke="#333" stroke-width="1.0"/>
<rect x="385.79" y="41.00" width="3.5" height="4.4" fill="#000"/>
<rect x="396.83" y="41.00" width="3.5" height="4.4" fill="#000"/>
<rect x="407.87" y="41.30" width="3.5" height="4.4" fill="#000"/>
<path d="M388.00 200.10 L388.00 189.50 L383.40 189.50" fill="none" stroke="#111" stroke-width="1.2"/>
<path d="M377.10 189.50 L383.40 187.10 L383.40 191.90 Z" fill="#111"/>
<path d="M392.30 116.60 L392.30 103.90 L383.60 103.90" fill="none" stroke="#111" stroke-width="1.2"/>
<path d="M377.30 103.90 L383.60 101.50 L383.60 106.30 Z" fill="#111"/>
<path d="M409.40 45.30 L409.40 57.10 L421.50 57.10" fill="none" stroke="#111" stroke-width="1.2"/>
<path d="M427.80 57.10 L421.50 54.70 L421.50 59.50 Z" fill="#111"/>
<path d="M629.40 43.00 L629.40 53.90 L641.90 53.90" fill="none" stroke="#111" stroke-width="1.2"/>
<path d="M648.20 53.90 L641.90 51.50 L641.90 56.30 Z" fill="#111"/>
<line x1="564.50" y1="18.10" x2="579.40" y2="18.10" stroke="#111" stroke-width="1.3" />
<rect x="570.15" y="15.90" width="3.5" height="4.4" fill="#000"/>
<line x1="564.50" y1="32.20" x2="579.40" y2="32.20" stroke="#ff0000" stroke-width="1.3" />
<ellipse cx="571.9" cy="32.2" rx="2.4" ry="2.65" fill="#ff0000"/>
<text x="581.70" y="21.60" font-size="12.6" text-anchor="start" font-weight="bold" textLength="67.8" lengthAdjust="spacingAndGlyphs">50%TEOS/PSF</text>
<text x="581.70" y="35.10" font-size="12.0" text-anchor="start" font-weight="normal" textLength="67" lengthAdjust="spacingAndGlyphs">Janus membrane</text>
<text transform="translate(370.00,238.25) scale(0.845,1)" font-size="11.8" text-anchor="end" font-weight="bold" >0</text>
<text transform="translate(370.00,215.73) scale(0.845,1)" font-size="11.8" text-anchor="end" font-weight="bold" >5</text>
<text transform="translate(370.00,193.22) scale(0.845,1)" font-size="11.8" text-anchor="end" font-weight="bold" >10</text>
<text transform="translate(370.00,170.70) scale(0.845,1)" font-size="11.8" text-anchor="end" font-weight="bold" >15</text>
<text transform="translate(370.00,148.19) scale(0.845,1)" font-size="11.8" text-anchor="end" font-weight="bold" >20</text>
<text transform="translate(370.00,125.67) scale(0.845,1)" font-size="11.8" text-anchor="end" font-weight="bold" >25</text>
<text transform="translate(370.00,103.16) scale(0.845,1)" font-size="11.8" text-anchor="end" font-weight="bold" >30</text>
<text transform="translate(370.00,80.64) scale(0.845,1)" font-size="11.8" text-anchor="end" font-weight="bold" >35</text>
<text transform="translate(370.00,58.13) scale(0.845,1)" font-size="11.8" text-anchor="end" font-weight="bold" >40</text>
<text transform="translate(370.00,35.61) scale(0.845,1)" font-size="11.8" text-anchor="end" font-weight="bold" >45</text>
<text transform="translate(370.00,13.10) scale(0.845,1)" font-size="11.8" text-anchor="end" font-weight="bold" >50</text>
<text transform="translate(659.80,240.50) scale(0.845,1)" font-size="11.8" text-anchor="start" font-weight="bold" >70</text>
<text transform="translate(659.80,208.01) scale(0.845,1)" font-size="11.8" text-anchor="start" font-weight="bold" >75</text>
<text transform="translate(659.80,175.53) scale(0.845,1)" font-size="11.8" text-anchor="start" font-weight="bold" >80</text>
<text transform="translate(659.80,143.04) scale(0.845,1)" font-size="11.8" text-anchor="start" font-weight="bold" >85</text>
<text transform="translate(659.80,110.56) scale(0.845,1)" font-size="11.8" text-anchor="start" font-weight="bold" >90</text>
<text transform="translate(659.80,78.07) scale(0.845,1)" font-size="11.8" text-anchor="start" font-weight="bold" >95</text>
<text transform="translate(659.80,45.59) scale(0.845,1)" font-size="11.8" text-anchor="start" font-weight="bold" >100</text>
<text transform="translate(376.50,252.60) scale(0.845,1)" font-size="11.8" text-anchor="middle" font-weight="bold" >0</text>
<text transform="translate(420.66,252.60) scale(0.845,1)" font-size="11.8" text-anchor="middle" font-weight="bold" >4</text>
<text transform="translate(464.82,252.60) scale(0.845,1)" font-size="11.8" text-anchor="middle" font-weight="bold" >8</text>
<text transform="translate(508.98,252.60) scale(0.845,1)" font-size="11.8" text-anchor="middle" font-weight="bold" >12</text>
<text transform="translate(553.14,252.60) scale(0.845,1)" font-size="11.8" text-anchor="middle" font-weight="bold" >16</text>
<text transform="translate(597.30,252.60) scale(0.845,1)" font-size="11.8" text-anchor="middle" font-weight="bold" >20</text>
<text transform="translate(641.46,252.60) scale(0.845,1)" font-size="11.8" text-anchor="middle" font-weight="bold" >24</text>
<text x="480.40" y="269.70" font-size="14.6" text-anchor="start" font-weight="bold" textLength="62" lengthAdjust="spacingAndGlyphs">Time(hour)</text>
<text transform="translate(355.7,198.3) rotate(-90)" font-size="12.7" font-weight="bold" textLength="129.6" lengthAdjust="spacingAndGlyphs">Permeate flux (LMH)</text>
<text transform="translate(680.6,182.0) rotate(-90)" font-size="12.4" font-weight="bold" textLength="100.6" lengthAdjust="spacingAndGlyphs">salt rejection(%)</text>
<text transform="translate(343.00,21.80) scale(0.94,1)" font-size="14" text-anchor="start" font-weight="bold" style="stroke-width:0.5px">(b)</text>
</svg>
</body></html>
